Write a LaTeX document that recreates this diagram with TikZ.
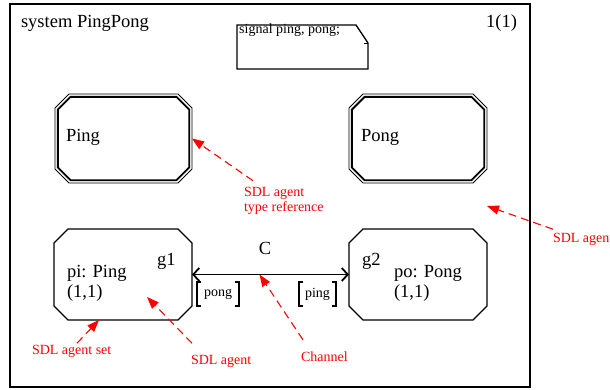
\documentclass[tikz,border=0pt]{standalone}
\usepackage{fontspec}
\setmainfont{Liberation Serif}
\usetikzlibrary{arrows.meta,calc}

\newcommand\bigtext{\fontsize{18.5}{22}\selectfont}
\newcommand\smalltext{\fontsize{14}{16}\selectfont}

% octagon (chamfered rectangle) drawn on the border of a named node
\newcommand\chamferbox[3]{%
  \draw[#3] ($(#1.north west)+(#2,0)$) -- ($(#1.north east)+(-#2,0)$)
    -- ($(#1.north east)+(0,#2)$) -- ($(#1.south east)+(0,-#2)$)
    -- ($(#1.south east)+(-#2,0)$) -- ($(#1.south west)+(#2,0)$)
    -- ($(#1.south west)+(0,-#2)$) -- ($(#1.north west)+(0,#2)$) -- cycle;}

% square brackets round a signal list
\newcommand\sigbrackets[1]{%
  \draw[bracket] ($(#1.north west)+(4,0)$) -- (#1.north west) -- (#1.south west) -- ($(#1.south west)+(4,0)$);
  \draw[bracket] ($(#1.north east)+(-4,0)$) -- (#1.north east) -- (#1.south east) -- ($(#1.south east)+(-4,0)$);}

\begin{document}
\begin{tikzpicture}[x=1pt,y=-1pt,
  area/.style={inner sep=0, outer sep=0, draw=none},
  sysframe/.style={draw, line width=2pt, inner sep=0, outer sep=0},
  label/.style={inner sep=0, outer sep=0, font=\bigtext, anchor=base west},
  ann/.style={inner sep=0, outer sep=0, font=\smalltext, text=red, anchor=base west},
  annarrow/.style={red, line width=1.1pt, dash pattern=on 8pt off 5pt,
    -{Triangle[length=12pt,width=9pt]}},
  thinline/.style={line width=0.8pt},
  thickline/.style={line width=1.9pt},
  agentline/.style={line width=1.2pt},
  channel/.style={line width=1.8pt,
    {Straight Barb[length=6pt,width=13pt]}-{Straight Barb[length=6pt,width=13pt]}},
  sigbox/.style={inner sep=0, outer sep=0, minimum height=24pt, font=\smalltext},
  bracket/.style={line width=1.6pt}]

\useasboundingbox (0,0) rectangle (610,389);
\clip (0,0) rectangle (610,389);

% system frame and heading
\node[sysframe, minimum width=520pt, minimum height=383pt] (sys) at (270,195.5) {};
\node[label] (title) at (21,27) {system PingPong};
\node[label, anchor=base east] (page) at (517,27) {1(1)};

% text symbol with the signal declaration
\node[area, minimum width=131pt, minimum height=44pt] (sigdecl) at (302.5,47) {};
\draw[line width=1.3pt] (sigdecl.north west) -- ($(sigdecl.north east)+(-12,0)$)
  -- ($(sigdecl.north east)+(0,18)$) -- (sigdecl.south east) -- (sigdecl.south west) -- cycle;
\draw[line width=1pt] ($(sigdecl.north east)+(-4,18)$) -- ($(sigdecl.north east)+(0,18)$);
\node[inner sep=0, anchor=base west, font=\smalltext] (sigtext) at (239,33) {signal ping, pong;};

% agent type references (double border)
\node[area, minimum width=137pt, minimum height=89pt] (pingref) at (123.5,138.5) {};
\node[area, minimum width=131.4pt, minimum height=83.4pt] (pingrefin) at (pingref.center) {};
\chamferbox{pingref}{14}{thinline}
\chamferbox{pingrefin}{12.8}{thickline}
\node[label] (pingname) at (66,141) {Ping};

\node[area, minimum width=138pt, minimum height=89pt] (pongref) at (418,138.5) {};
\node[area, minimum width=132.4pt, minimum height=83.4pt] (pongrefin) at (pongref.center) {};
\chamferbox{pongref}{14}{thinline}
\chamferbox{pongrefin}{12.8}{thickline}
\node[label] (pongname) at (361,141) {Pong};

% agents
\node[area, minimum width=138pt, minimum height=91pt] (pi) at (123,274.5) {};
\chamferbox{pi}{14}{agentline}
\node[label] (piname) at (67,277) {pi: Ping};
\node[label] (pimult) at (67,297) {(1,1)};
\node[label] (gone) at (157,265) {g1};

\node[area, minimum width=138pt, minimum height=91pt] (po) at (418,274.5) {};
\chamferbox{po}{14}{agentline}
\node[label] (poname) at (394,277) {po: Pong};
\node[label] (pomult) at (394,297) {(1,1)};
\node[label] (gtwo) at (362,265) {g2};

% channel C with its signal lists
\draw[channel] (pi.east) -- (po.west);
\coordinate (chmid) at ($(pi.east)!0.43!(po.west)$);
\node[label, anchor=base] (chname) at (265,254) {C};
\node[sigbox, minimum width=42pt] (sigpong) at (218,294) {pong};
\node[sigbox, minimum width=37pt] (sigping) at (317.5,294) {ping};
\sigbrackets{sigpong}
\sigbrackets{sigping}

% annotations
\node[ann] (typeref1) at (244,196) {SDL agent};
\node[ann] (typeref2) at (244,211) {type reference};
\node[ann] (agentnote) at (553,242) {SDL agent};
\node[ann] (setnote) at (32,354) {SDL agent set};
\node[ann] (agentnote2) at (191,364) {SDL agent};
\node[ann] (channote) at (301,361) {Channel};
\coordinate (pongtip) at (487,206);

\draw[annarrow] ($(typeref1.north west)+(9,-6)$) -- (pingref.east);
\draw[annarrow] ($(agentnote.north west)+(0,-3.5)$) -- (pongtip);
\draw[annarrow] ($(setnote.north west)+(45,-1.5)$) -- ($(pi.south west)+(45,0)$);
\draw[annarrow] ($(agentnote2.north west)+(1,-11.5)$) -- ($(pi.center)+(24,22.5)$);
\draw[annarrow] ($(channote.north west)+(2,-11.5)$) -- (chmid);
\end{tikzpicture}
\end{document}
